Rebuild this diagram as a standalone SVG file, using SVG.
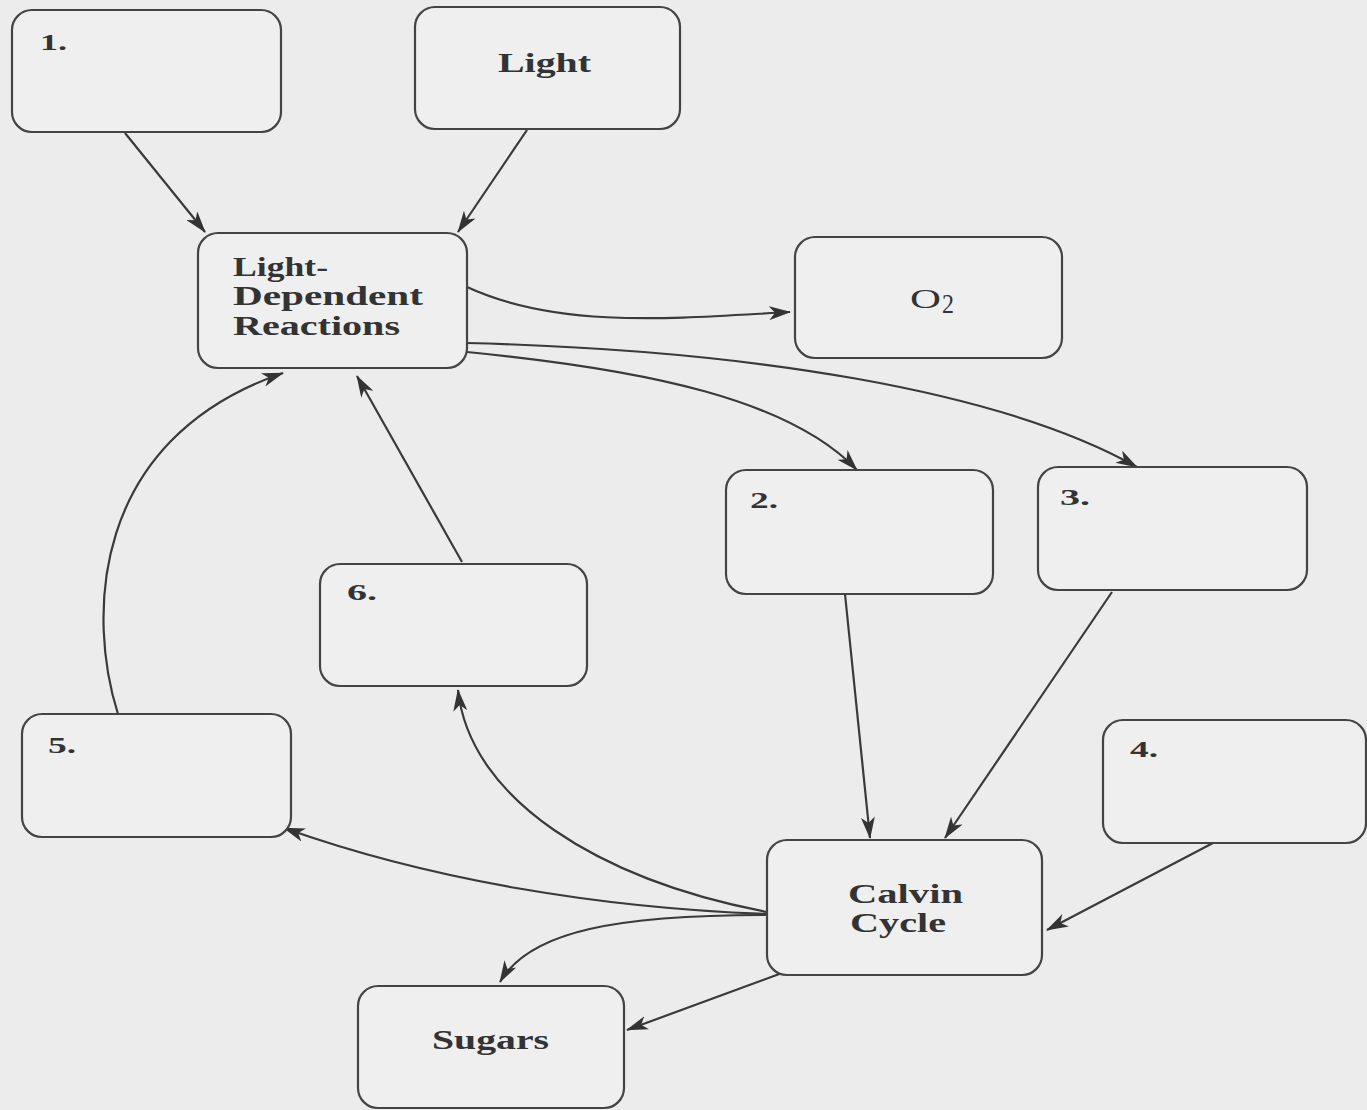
<svg xmlns="http://www.w3.org/2000/svg" width="1367" height="1110" viewBox="0 0 1367 1110">
  <style>
    .box { fill: #efefef; stroke: #444; stroke-width: 2.2; }
    .lbl { font-family: "Liberation Serif", "DejaVu Serif", serif; font-size: 28px; font-weight: bold; fill: #333; }
    .num { font-family: "Liberation Serif", "DejaVu Serif", serif; font-size: 24px; font-weight: bold; fill: #333; }
    .reg { font-family: "Liberation Serif", "DejaVu Serif", serif; font-size: 28px; fill: #333; }
    .edge { fill: none; stroke: #3a3a3a; stroke-width: 2.2; marker-end: url(#arr); }
  </style>
  <defs>
    <marker id="arr" viewBox="0 0 22 14" refX="21" refY="7" markerWidth="22" markerHeight="14" markerUnits="userSpaceOnUse" orient="auto">
      <path d="M0,0 L22,7 L0,14 L6,7 z" fill="#333"/>
    </marker>
  </defs>
  <rect x="0" y="0" width="1367" height="1110" fill="#ececec"/>

  <g id="connectors">
    <path class="edge" d="M125,133 L205,232"/>
    <path class="edge" d="M527,130 L458,232"/>
    <path class="edge" d="M467,287 C560,330 680,318 790,312"/>
    <path class="edge" d="M467,352 C650,370 790,400 857,470"/>
    <path class="edge" d="M467,343 C750,350 1000,390 1137,467"/>
    <path class="edge" d="M845,594 L870,838"/>
    <path class="edge" d="M1112,592 L945,838"/>
    <path class="edge" d="M1213,843 L1047,930"/>
    <path class="edge" d="M767,914 C600,908 430,880 284,828"/>
    <path class="edge" d="M767,912 C600,880 470,800 458,690"/>
    <path class="edge" d="M767,915 C620,915 530,930 500,982"/>
    <path class="edge" d="M782,973 L627,1030"/>
    <path class="edge" d="M118,714 C88,620 88,440 283,373"/>
    <path class="edge" d="M462,562 L357,376"/>
  </g>

  <g id="node1">
    <rect class="box" x="12" y="10" width="269" height="122" rx="20"/>
    <text class="num" x="40" y="50" textLength="27" lengthAdjust="spacingAndGlyphs">1.</text>
  </g>
  <g id="light">
    <rect class="box" x="415" y="7" width="265" height="122" rx="20"/>
    <text class="lbl" x="498" y="72" textLength="93" lengthAdjust="spacingAndGlyphs">Light</text>
  </g>
  <g id="ldr">
    <rect class="box" x="198" y="233" width="269" height="135" rx="20"/>
    <text class="lbl" x="233" y="276" textLength="95" lengthAdjust="spacingAndGlyphs">Light-</text>
    <text class="lbl" x="233" y="305" textLength="190" lengthAdjust="spacingAndGlyphs">Dependent</text>
    <text class="lbl" x="233" y="335" textLength="167" lengthAdjust="spacingAndGlyphs">Reactions</text>
  </g>
  <g id="o2">
    <rect class="box" x="795" y="237" width="267" height="121" rx="20"/>
    <text class="reg" x="910" y="308" textLength="31" lengthAdjust="spacingAndGlyphs">O</text>
    <text class="reg" x="942" y="313" font-size="20" textLength="12" lengthAdjust="spacingAndGlyphs">2</text>
  </g>
  <g id="node2">
    <rect class="box" x="726" y="470" width="267" height="124" rx="20"/>
    <text class="num" x="750" y="508" textLength="28" lengthAdjust="spacingAndGlyphs">2.</text>
  </g>
  <g id="node3">
    <rect class="box" x="1038" y="467" width="269" height="123" rx="20"/>
    <text class="num" x="1060" y="505" textLength="30" lengthAdjust="spacingAndGlyphs">3.</text>
  </g>
  <g id="node6">
    <rect class="box" x="320" y="564" width="267" height="122" rx="20"/>
    <text class="num" x="347" y="600" textLength="30" lengthAdjust="spacingAndGlyphs">6.</text>
  </g>
  <g id="node5">
    <rect class="box" x="22" y="714" width="269" height="123" rx="20"/>
    <text class="num" x="48" y="753" textLength="28" lengthAdjust="spacingAndGlyphs">5.</text>
  </g>
  <g id="node4">
    <rect class="box" x="1103" y="720" width="263" height="123" rx="20"/>
    <text class="num" x="1130" y="757" textLength="28" lengthAdjust="spacingAndGlyphs">4.</text>
  </g>
  <g id="calvin">
    <rect class="box" x="767" y="840" width="275" height="135" rx="20"/>
    <text class="lbl" x="848" y="903" textLength="115" lengthAdjust="spacingAndGlyphs">Calvin</text>
    <text class="lbl" x="850" y="932" textLength="96" lengthAdjust="spacingAndGlyphs">Cycle</text>
  </g>
  <g id="sugars">
    <rect class="box" x="358" y="986" width="266" height="122" rx="20"/>
    <text class="lbl" x="432" y="1049" textLength="117" lengthAdjust="spacingAndGlyphs">Sugars</text>
  </g>
</svg>
